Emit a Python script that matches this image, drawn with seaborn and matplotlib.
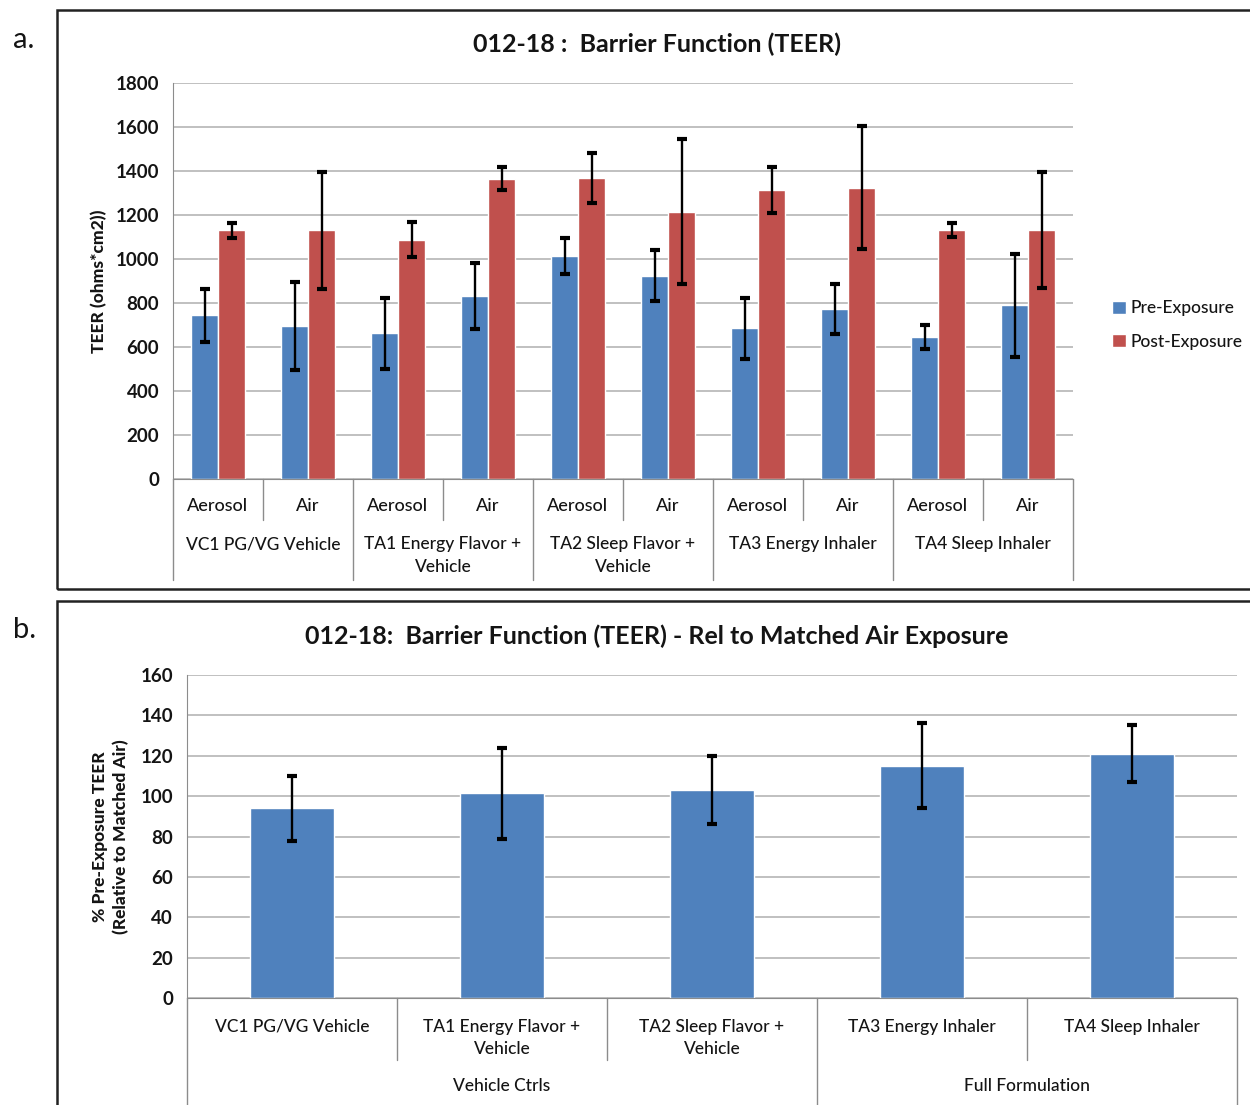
import matplotlib
matplotlib.use("Agg")
import matplotlib.pyplot as plt
import seaborn as sns
import pandas as pd
from matplotlib.patches import Rectangle
from matplotlib.transforms import blended_transform_factory

# ---------------- data ----------------
groups_a = ["VC1 PG/VG Vehicle", "TA1 Energy Flavor +\nVehicle", "TA2 Sleep Flavor +\nVehicle",
            "TA3 Energy Inhaler", "TA4 Sleep Inhaler"]
exposures = ["Aerosol", "Air"]
phases = ["Pre-Exposure", "Post-Exposure"]
pre_mean = [745, 695, 662, 830, 1013, 925, 685, 773, 645, 790]
pre_err = [120, 200, 163, 150, 82, 115, 140, 115, 55, 235]
post_mean = [1130, 1130, 1088, 1365, 1368, 1215, 1315, 1325, 1132, 1132]
post_err = [33, 265, 80, 52, 115, 330, 105, 280, 33, 265]
yticks_a = [0, 200, 400, 600, 800, 1000, 1200, 1400, 1600, 1800]

labels_b = ["VC1 PG/VG Vehicle", "TA1 Energy Flavor +\nVehicle", "TA2 Sleep Flavor +\nVehicle",
            "TA3 Energy Inhaler", "TA4 Sleep Inhaler"]
rel_mean = [94, 101.5, 103, 115, 121]
rel_err = [16, 22.5, 17, 21, 14]
groups_b = ["Vehicle Ctrls", "Full Formulation"]
yticks_b = [0, 20, 40, 60, 80, 100, 120, 140, 160]

title_a = "012-18 :  Barrier Function (TEER)"
title_b = "012-18:  Barrier Function (TEER) - Rel to Matched Air Exposure"
ylabel_a = "TEER (ohms*cm2))"
ylabel_b = "% Pre-Exposure TEER\n(Relative to Matched Air)"

BLUE = "#4F81BD"
RED = "#C0504D"
GRID = "#B5B5B5"
AXC = "#8C8C8C"
TXT = "#141414"

sns.set_style("white")
plt.rcParams['font.family'] = ['Lato', 'DejaVu Sans']
plt.rcParams['text.color'] = TXT
plt.rcParams['xtick.color'] = TXT
plt.rcParams['ytick.color'] = TXT
plt.rcParams['axes.labelcolor'] = TXT

W, H = 1250, 1105
fig = plt.figure(figsize=(W / 100, H / 100), dpi=100)

# panel boxes
fig.patches.append(Rectangle((57 / W, 1 - 589 / H), 1.2, (589 - 10) / H, transform=fig.transFigure,
                             fill=False, edgecolor="#222222", lw=1.8))
fig.patches.append(Rectangle((57 / W, -0.1), 1.2, 0.1 + (1 - 601 / H), transform=fig.transFigure,
                             fill=False, edgecolor="#222222", lw=1.8))
fig.text(13 / W, 1 - 40 / H, "a.", fontsize=21, va="center", ha="left")
fig.text(13 / W, 1 - 630 / H, "b.", fontsize=21, va="center", ha="left")

LABEL_W = "medium"
HEAVY = 900

# ---------------- panel a ----------------
slots = [f"{g}|{e}" for g in groups_a for e in exposures]
df_a = pd.DataFrame({
    "slot": slots * 2,
    "phase": [phases[0]] * len(slots) + [phases[1]] * len(slots),
    "value": pre_mean + post_mean,
})

axA = fig.add_axes([173 / W, 1 - 479 / H, 900 / W, 396 / H])
sns.barplot(data=df_a, x="slot", y="value", hue="phase", order=slots, hue_order=phases,
            palette=[BLUE, RED], width=0.6, errorbar=None, saturation=1, ax=axA, legend=True)
for cont, errs in zip(axA.containers, [pre_err, post_err]):
    xs = [b.get_x() + b.get_width() / 2 for b in cont]
    ys = [b.get_height() for b in cont]
    axA.errorbar(xs, ys, yerr=errs, fmt="none", ecolor="black", elinewidth=1.7,
                 capsize=3.5, capthick=3, zorder=4)

axA.set_ylim(0, 1800)
axA.set_yticks(yticks_a)
axA.set_xlim(-0.5, len(slots) - 0.5)
axA.set_axisbelow(True)
axA.yaxis.grid(True, color=GRID, lw=1.2)
for s in ["top", "right"]:
    axA.spines[s].set_visible(False)
for s in ["left", "bottom"]:
    axA.spines[s].set_color(AXC)
axA.set_xticks(range(len(slots)))
axA.set_xticklabels(exposures * len(groups_a), fontsize=13, fontweight=LABEL_W)
axA.tick_params(axis="x", length=0, pad=14)
axA.tick_params(axis="y", length=4, color=AXC, labelsize=13.5, pad=6)
for t in axA.get_yticklabels():
    t.set_fontweight("bold")
axA.set_xlabel("")
axA.set_ylabel(ylabel_a, fontsize=12.5, fontweight=HEAVY, labelpad=6)

trA = blended_transform_factory(axA.transData, axA.transAxes)
for k in range(len(slots) + 1):
    x = k - 0.5
    ymin = -0.255 if k % 2 == 0 else -0.1035
    axA.plot([x, x], [0, ymin], transform=trA, color=AXC, lw=1, clip_on=False)
for j, g in enumerate(groups_a):
    axA.text(2 * j + 0.5, -0.144, g, transform=trA, ha="center", va="top",
             fontsize=12.5, fontweight=LABEL_W, linespacing=1.5)

h, l = axA.get_legend_handles_labels()
axA.legend(h, l, loc="center left", bbox_to_anchor=(1096 / W, 1 - 325 / H),
           bbox_transform=fig.transFigure, frameon=False,
           prop={"size": 12.5, "weight": LABEL_W},
           handlelength=0.8, handleheight=0.8, handletextpad=0.3, labelspacing=1.0)

fig.text(657 / W, 1 - 44 / H, title_a, ha="center", va="center", fontsize=18, fontweight="bold")

# ---------------- panel b ----------------
df_b = pd.DataFrame({"label": labels_b, "value": rel_mean})
axB = fig.add_axes([187 / W, 1 - 998 / H, 1050 / W, 323 / H])
sns.barplot(data=df_b, x="label", y="value", order=labels_b, color=BLUE, width=0.4,
            errorbar=None, saturation=1, ax=axB)
cont = axB.containers[0]
xs = [b.get_x() + b.get_width() / 2 for b in cont]
ys = [b.get_height() for b in cont]
axB.errorbar(xs, ys, yerr=rel_err, fmt="none", ecolor="black", elinewidth=1.7,
             capsize=3.5, capthick=3, zorder=4)

axB.set_ylim(0, 160)
axB.set_yticks(yticks_b)
axB.set_xlim(-0.5, len(labels_b) - 0.5)
axB.set_axisbelow(True)
axB.yaxis.grid(True, color=GRID, lw=1.2)
for s in ["top", "right"]:
    axB.spines[s].set_visible(False)
for s in ["left", "bottom"]:
    axB.spines[s].set_color(AXC)
axB.tick_params(axis="x", length=0, pad=15, labelsize=12.5)
axB.tick_params(axis="y", length=4, color=AXC, labelsize=13.5, pad=6)
for t in axB.get_yticklabels():
    t.set_fontweight("bold")
for t in axB.get_xticklabels():
    t.set_linespacing(1.5)
    t.set_fontweight(LABEL_W)
axB.set_xlabel("")
axB.set_ylabel(ylabel_b, fontsize=12.5, fontweight=HEAVY, labelpad=8, linespacing=1.35)

trB = blended_transform_factory(axB.transData, axB.transAxes)
for k in range(len(labels_b) + 1):
    x = k - 0.5
    ymin = -0.33 if k in (0, 3, 5) else -0.192
    axB.plot([x, x], [0, ymin], transform=trB, color=AXC, lw=1, clip_on=False)
axB.text(1, -0.272, groups_b[0], transform=trB, ha="center", va="center",
         fontsize=12.5, fontweight=LABEL_W)
axB.text(3.5, -0.272, groups_b[1], transform=trB, ha="center", va="center",
         fontsize=12.5, fontweight=LABEL_W)

fig.text(657 / W, 1 - 636 / H, title_b, ha="center", va="center", fontsize=18, fontweight="bold")

fig.savefig("out.png", dpi=100)
